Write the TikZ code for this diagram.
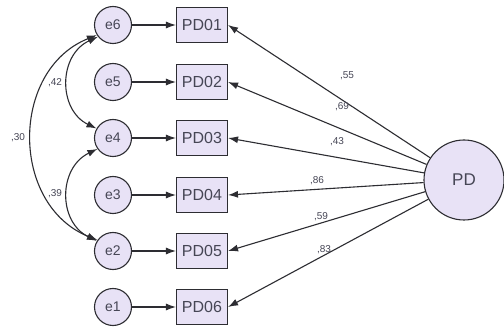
\documentclass[tikz,border=0pt]{standalone}
\usepackage{fontspec}
\setmainfont{Liberation Sans}
\usetikzlibrary{arrows.meta}
\definecolor{fillc}{RGB}{232,226,246}
\definecolor{linec}{RGB}{45,45,50}
\definecolor{txtc}{RGB}{70,70,85}
\begin{document}
\begin{tikzpicture}[x=1pt,y=-1pt,
  err/.style={circle, draw=linec, fill=fillc, line width=1.1pt, minimum size=37pt, inner sep=0pt, text=txtc, font=\fontsize{14}{14}\selectfont},
  obs/.style={rectangle, draw=linec, fill=fillc, line width=1.1pt, minimum width=51pt, minimum height=35pt, inner sep=0pt, text=txtc, font=\fontsize{16}{16}\selectfont},
  lat/.style={circle, draw=linec, fill=fillc, line width=1.1pt, minimum size=80pt, inner sep=0pt, text=txtc, font=\fontsize{17}{17}\selectfont},
  arr/.style={-{Latex[length=10pt,width=7pt]}, line width=1.1pt, draw=linec},
  darr/.style={{Latex[length=10pt,width=7pt]}-{Latex[length=10pt,width=7pt]}, line width=1.1pt, draw=linec},
  lbl/.style={text=txtc, inner sep=0pt, font=\fontsize{10}{10}\selectfont}]
\useasboundingbox (0,0) rectangle (504,334);
\fill[white] (0,0) rectangle (504,334);

\node[err] (e6) at (113,25) {e6};
\node[err] (e5) at (113,82) {e5};
\node[err] (e4) at (113,138) {e4};
\node[err] (e3) at (113,195) {e3};
\node[err] (e2) at (113,251) {e2};
\node[err] (e1) at (113,307) {e1};

\node[obs] (b1) at (202,25) {PD01};
\node[obs] (b2) at (202,82) {PD02};
\node[obs] (b3) at (202,138) {PD03};
\node[obs] (b4) at (202,195) {PD04};
\node[obs] (b5) at (202,251) {PD05};
\node[obs] (b6) at (202,307) {PD06};

\node[lat] (pd) at (464,180) {PD};

\draw[arr] (e6) -- (b1);
\draw[arr] (e5) -- (b2);
\draw[arr] (e4) -- (b3);
\draw[arr] (e3) -- (b4);
\draw[arr] (e2) -- (b5);
\draw[arr] (e1) -- (b6);

\draw[arr] (pd) -- (b1.east);
\draw[arr] (pd) -- (b2.east);
\draw[arr] (pd) -- (b3.east);
\draw[arr] (pd) -- (b4.east);
\draw[arr] (pd) -- (b5.east);
\draw[arr] (pd) -- (b6.east);

\draw[darr] (e6.218) .. controls (58,55) and (58,110) .. (e4.150);
\draw[darr] (e4.215) .. controls (58,168) and (58,222) .. (e2.148);
\draw[darr] (e6.212) .. controls (10,70) and (10,205) .. (e2.145);

\node[lbl] (c1) at (55,83) {,42};
\node[lbl] (c2) at (18,138) {,30};
\node[lbl] (c3) at (55,194) {,39};

\node[lbl] (l1) at (347,76) {,55};
\node[lbl] (l2) at (342,107) {,69};
\node[lbl] (l3) at (337,142) {,43};
\node[lbl] (l4) at (317,181) {,86};
\node[lbl] (l5) at (321,217) {,59};
\node[lbl] (l6) at (324,250) {,83};
\end{tikzpicture}
\end{document}
